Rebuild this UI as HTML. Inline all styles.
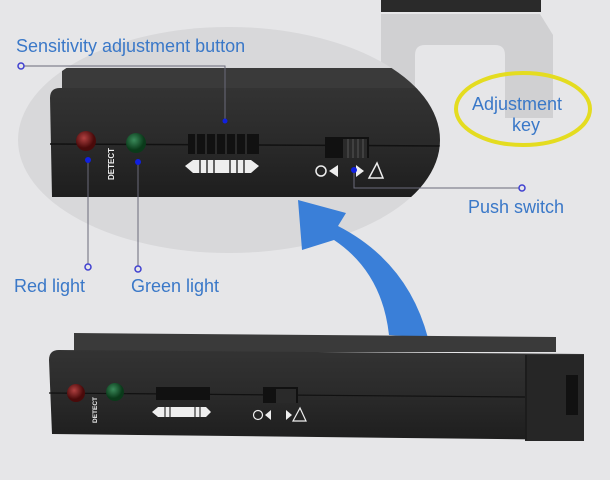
<!DOCTYPE html>
<html><head><meta charset="utf-8"><style>
html,body{margin:0;padding:0;background:#e6e6e8;}
svg{display:block}
text{font-family:"Liberation Sans",sans-serif;}
</style></head><body>
<svg width="610" height="480" viewBox="0 0 610 480" xmlns="http://www.w3.org/2000/svg">
<defs>
<linearGradient id="face" x1="0" y1="0" x2="0" y2="1"><stop offset="0" stop-color="#333"/><stop offset="0.5" stop-color="#2a2a2a"/><stop offset="1" stop-color="#1e1e1e"/></linearGradient>
<clipPath id="ell"><ellipse cx="229" cy="140" rx="211" ry="113"/></clipPath>
<radialGradient id="red" cx="0.4" cy="0.35"><stop offset="0" stop-color="#b04040"/><stop offset="1" stop-color="#4a0a0a"/></radialGradient>
<radialGradient id="grn" cx="0.4" cy="0.35"><stop offset="0" stop-color="#3a8a5a"/><stop offset="1" stop-color="#0a3a1a"/></radialGradient>
</defs>
<rect width="610" height="480" fill="#e6e6e8"/>
<!-- top right glass -->
<rect x="381" y="0" width="160" height="12" fill="#2a2a2a"/>
<path d="M381 14 L540 14 L553 35 L553 118 L505 118 L505 55 Q505 45 495 45 L425 45 Q415 45 415 55 L415 118 L381 118 Z" fill="#cbcbce" opacity="0.85"/>
<!-- magnifier -->
<ellipse cx="229" cy="140" rx="211" ry="113" fill="#d8d8da"/>
<g clip-path="url(#ell)">
<rect x="62" y="68" width="380" height="22" fill="#3a3a3a"/>
<path d="M50 98 Q50 88 60 88 L445 88 L445 197 L52 197 Z" fill="url(#face)"/>
<line x1="50" y1="144" x2="445" y2="146" stroke="#111" stroke-width="1.5"/>
</g>
<!-- top device details -->
<circle cx="86" cy="141" r="10" fill="url(#red)"/>
<circle cx="136" cy="143" r="10" fill="url(#grn)"/>
<text x="0" y="0" transform="translate(114,180) rotate(-90)" font-size="8" font-weight="bold" fill="#eee">DETECT</text>
<rect x="188" y="134" width="71" height="20" fill="#111"/>
<g stroke="#444" stroke-width="1"><line x1="196" y1="134" x2="196" y2="154"/><line x1="206" y1="134" x2="206" y2="154"/><line x1="216" y1="134" x2="216" y2="154"/><line x1="226" y1="134" x2="226" y2="154"/><line x1="236" y1="134" x2="236" y2="154"/><line x1="246" y1="134" x2="246" y2="154"/></g>
<path d="M185 166 L193 160 L251 160 L259 166 L251 173 L193 173 Z" fill="#eee"/>
<g stroke="#333" stroke-width="1.5"><line x1="200" y1="160" x2="200" y2="173"/><line x1="207" y1="160" x2="207" y2="173"/><line x1="214" y1="160" x2="214" y2="173"/><line x1="230" y1="160" x2="230" y2="173"/><line x1="237" y1="160" x2="237" y2="173"/><line x1="244" y1="160" x2="244" y2="173"/></g>
<rect x="325" y="137" width="44" height="21" fill="#111"/>
<rect x="343" y="139" width="24" height="19" fill="#2a2a2a"/>
<g stroke="#555"><line x1="348" y1="139" x2="348" y2="158"/><line x1="353" y1="139" x2="353" y2="158"/><line x1="358" y1="139" x2="358" y2="158"/><line x1="363" y1="139" x2="363" y2="158"/></g>
<circle cx="321" cy="171" r="5" fill="none" stroke="#eee" stroke-width="1.5"/>
<path d="M329 171 L338 165 L338 177 Z" fill="#eee"/>
<path d="M356 165 L364 171 L356 177 Z" fill="#eee"/>
<path d="M377 163 L383 178 L369 178 Z" fill="none" stroke="#eee" stroke-width="1.5"/>
<!-- callouts -->
<g stroke="#6a6a7a" stroke-width="1" fill="none">
<polyline points="24,66 225,66 225,121"/>
<line x1="88" y1="160" x2="88" y2="264"/>
<line x1="138" y1="162" x2="138" y2="266"/>
<polyline points="354,170 354,188 519,188"/>
</g>
<g fill="none" stroke="#4040d0" stroke-width="1.5">
<circle cx="21" cy="66" r="3"/><circle cx="88" cy="267" r="3"/><circle cx="138" cy="269" r="3"/><circle cx="522" cy="188" r="3"/>
</g>
<g fill="#1020e0"><circle cx="225" cy="121" r="2.5"/><circle cx="88" cy="160" r="3"/><circle cx="138" cy="162" r="3"/><circle cx="354" cy="170" r="3"/></g>
<g fill="#3a78c8" font-size="18">
<text x="16" y="52">Sensitivity adjustment button</text>
<text x="14" y="292">Red light</text>
<text x="131" y="292">Green light</text>
<text x="468" y="213">Push switch</text>
<text x="472" y="110">Adjustment</text>
<text x="512" y="131">key</text>
</g>
<ellipse cx="523" cy="109" rx="67" ry="36" fill="none" stroke="#e4dc20" stroke-width="4"/>
<!-- blue arrow -->
<path d="M389 335 Q382 272 334 240 L302 250 L298 200 L346 213 L338 226 Q408 262 428 338 Z" fill="#3a7fd8"/>
<!-- bottom device -->
<path d="M74 333 L556 337 L556 352 L74 352 Z" fill="#3a3a3a"/>
<path d="M49 360 Q49 350 59 350 L584 354 L584 440 L52 434 Z" fill="url(#face)"/>
<line x1="49" y1="393" x2="525" y2="397" stroke="#111" stroke-width="1.2"/>
<rect x="525" y="355" width="59" height="86" fill="#262626"/>
<line x1="526" y1="355" x2="526" y2="440" stroke="#111"/>
<rect x="566" y="375" width="12" height="40" fill="#111"/>
<circle cx="76" cy="393" r="9" fill="url(#red)"/>
<circle cx="115" cy="392" r="9" fill="url(#grn)"/>
<text x="0" y="0" transform="translate(97,423) rotate(-90)" font-size="6.5" font-weight="bold" fill="#eee">DETECT</text>
<rect x="156" y="387" width="54" height="13" fill="#111"/>
<path d="M152 412 L158 407 L206 407 L211 412 L206 417 L158 417 Z" fill="#eee"/>
<g stroke="#333" stroke-width="1.2"><line x1="165" y1="407" x2="165" y2="417"/><line x1="170" y1="407" x2="170" y2="417"/><line x1="195" y1="407" x2="195" y2="417"/><line x1="200" y1="407" x2="200" y2="417"/></g>
<rect x="263" y="387" width="35" height="16" fill="#111"/>
<rect x="276" y="389" width="20" height="14" fill="#2a2a2a"/>
<circle cx="258" cy="415" r="4.5" fill="none" stroke="#eee" stroke-width="1.2"/>
<path d="M265 415 L271 410 L271 420 Z" fill="#eee"/>
<path d="M286 410 L292 415 L286 420 Z" fill="#eee"/>
<path d="M300 408 L306 421 L293 421 Z" fill="none" stroke="#eee" stroke-width="1.2"/>
</svg>
</body></html>
